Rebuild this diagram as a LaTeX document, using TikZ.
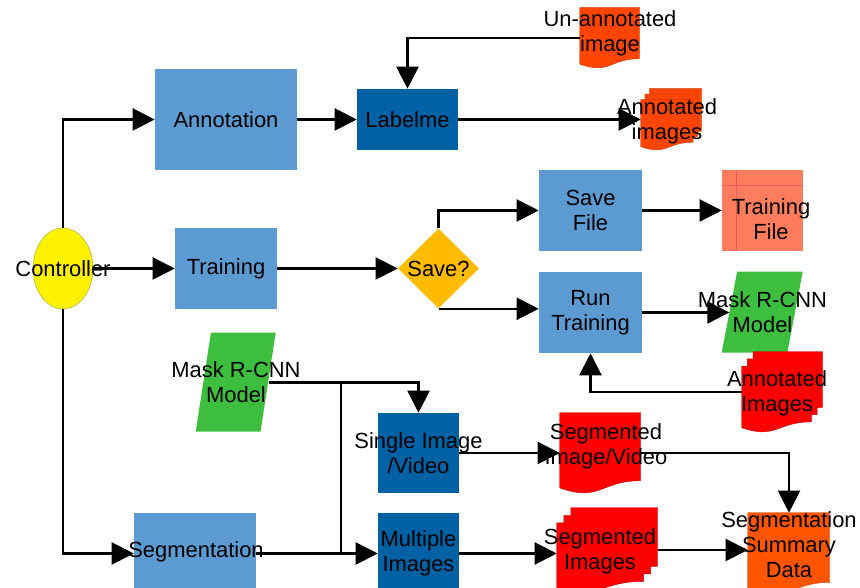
\documentclass[tikz,border=0pt]{standalone}
\usepackage{fontspec}
\setmainfont{Liberation Sans}
\usetikzlibrary{arrows.meta, shapes.geometric, positioning}

\definecolor{lightblue}{RGB}{91,155,210}
\definecolor{darkblue}{RGB}{0,97,165}
\definecolor{gold}{RGB}{255,187,0}
\definecolor{redorange}{RGB}{255,69,0}
\definecolor{docred}{RGB}{255,0,0}
\definecolor{summaryorange}{RGB}{255,85,0}
\definecolor{trainfile}{RGB}{255,124,92}
\definecolor{modelgreen}{RGB}{62,190,62}

% one page of a document shape, in a unit box (y downwards)
\newcommand{\docpage}[1]{\fill[#1, draw=#1!80!black, line width=0.3pt] (0,0) -- (1,0) -- (1,0.85) .. controls (0.5,0.85) and (0.5,1.12) .. (0,0.94) -- cycle;}
% shapes drawn over a named frame node: node, colour, width, height
\newcommand{\docshape}[4]{\begin{scope}[shift={(#1.north west)}, x=#3, y=-#4]\docpage{#2}\end{scope}}
\newcommand{\multidocshape}[4]{\begin{scope}[shift={(#1.north west)}, x=#3, y=-#4]
  \begin{scope}[shift={(0.14,0)}, xscale=0.86, yscale=0.82]\docpage{#2}\end{scope}
  \begin{scope}[shift={(0.07,0.09)}, xscale=0.86, yscale=0.82]\docpage{#2}\end{scope}
  \begin{scope}[shift={(0,0.18)}, xscale=0.86, yscale=0.82]\docpage{#2}\end{scope}
\end{scope}}
\newcommand{\parashape}[4]{\begin{scope}[shift={(#1.north west)}, x=#3, y=-#4]
  \fill[#2] (0.19,0) -- (1,0) -- (0.81,1) -- (0,1) -- cycle;
\end{scope}}

\begin{document}
\begin{tikzpicture}[
  font=\fontsize{15.6}{17.8}\selectfont,
  arr/.style={-{Triangle[length=0.55cm, width=0.55cm]}, line width=1.5pt},
  plainline/.style={line width=1.5pt},
  box/.style={fill=#1, inner sep=0pt, align=center},
  frame/.style 2 args={minimum width=#1, minimum height=#2, inner sep=0pt},
  txt/.style={align=center, inner sep=0pt}
]

\useasboundingbox (0,0) rectangle (21.5,14.7);
\clip (0,0) rectangle (21.5,14.7);

% Controller
\node[ellipse, fill=yellow, draw=yellow!60!black, line width=0.3pt, minimum width=1.5cm, minimum height=2.025cm] (ctrl) at (1.575,7.9875) {};

% Annotation
\node[box=lightblue, minimum width=3.55cm, minimum height=2.525cm] (annot) at (5.65,11.7125) {Annotation};
\node[box=darkblue, minimum width=2.525cm, minimum height=1.525cm] (labelme) at (10.1875,11.7125) {Labelme};
\node[frame={1.5cm}{1.5cm}] (unann) at (15.25,13.75) {};
\docshape{unann}{redorange}{1.5cm}{1.5cm}
\node[frame={1.525cm}{1.525cm}] (annimg) at (16.7875,11.7125) {};
\multidocshape{annimg}{redorange}{1.525cm}{1.525cm}

% Training
\node[box=lightblue, minimum width=2.55cm, minimum height=2.025cm] (train) at (5.65,7.9875) {Training};
\node[diamond, fill=gold, inner sep=0pt, minimum width=2.025cm, minimum height=2cm] (save) at (10.9625,7.9875) {Save?};
\node[box=lightblue, minimum width=2.575cm, minimum height=2.025cm] (savefile) at (14.7625,9.4375) {Save\\File};
\node[box=trainfile, minimum width=2.025cm, minimum height=2.025cm] (trainfile) at (19.0625,9.4375) {};
\draw[violet!25!trainfile, line width=0.4pt] ([xshift=0.375cm]trainfile.north west) -- ([xshift=0.375cm]trainfile.south west);
\draw[violet!25!trainfile, line width=0.4pt] ([yshift=-0.4cm]trainfile.north west) -- ([yshift=-0.4cm]trainfile.north east);
\node[box=lightblue, minimum width=2.575cm, minimum height=2.025cm] (runtrain) at (14.7625,6.8875) {Run\\Training};
\node[frame={2.025cm}{2.025cm}] (model) at (19.0625,6.8875) {};
\parashape{model}{modelgreen}{2.025cm}{2.025cm}
\node[frame={2.025cm}{2cm}] (annimgs) at (19.5625,4.9) {};
\multidocshape{annimgs}{docred}{2.025cm}{2cm}

% Segmentation
\node[frame={2cm}{2.475cm}] (maskmodel) at (5.9,5.1375) {};
\parashape{maskmodel}{modelgreen}{2cm}{2.475cm}
\node[box=darkblue, minimum width=2.025cm, minimum height=2cm] (single) at (10.4625,3.375) {};
\node[frame={2.025cm}{2cm}] (segvid) at (15.0125,3.375) {};
\docshape{segvid}{docred}{2.025cm}{2cm}
\node[box=lightblue, minimum width=3.05cm, minimum height=2.025cm] (seg) at (4.875,0.8625) {};
\node[box=darkblue, minimum width=2.025cm, minimum height=2.025cm] (multi) at (10.4625,0.8625) {Multiple\\Images};
\node[frame={2.525cm}{2.1cm}] (segimgs) at (15.1875,0.95) {};
\multidocshape{segimgs}{docred}{2.525cm}{2.1cm}
\node[frame={2.05cm}{2.05cm}] (summary) at (19.725,0.85) {};
\docshape{summary}{summaryorange}{2.05cm}{2.05cm}
\coordinate (split) at (8.525,0);

% Connectors
\draw[arr] (ctrl.north) |- (annot.west);
\draw[arr] (annot.east) -- (labelme.west);
\draw[arr] (unann.west) -| (labelme.north);
\draw[arr] (labelme.east) -- (annimg.west);
\draw[arr] (ctrl.east) -- (train.west);
\draw[arr] (train.east) -- (save.west);
\draw[arr] (save.north) |- (savefile.west);
\draw[arr] (save.south) -- (save.south -| runtrain.west);
\draw[arr] (savefile.east) -- (trainfile.west);
\draw[arr] (runtrain.east) -- ([xshift=0.19cm]model.west);
\draw[arr] (annimgs.west) -| (runtrain.south);
\draw[arr] (ctrl.south) |- (seg.west);
\draw[arr] (seg.east) -- (multi.west);
\draw[arr] ([xshift=-0.19cm]maskmodel.east) -| (single.north);
\draw[plainline] (maskmodel.east -| split) -- (seg.east -| split);
\draw[arr] (single.east) -- (segvid.west);
\draw[arr] (segvid.east) -| (summary.north);
\draw[arr] (multi.east) -- (multi.east -| segimgs.west);
\draw[arr] (segimgs.east) -- (segimgs.east -| summary.west);

% Labels on top
\node[txt] (ctrl-t) at (ctrl) {Controller};
\node[txt] (unann-t) at (15.25,13.875) {Un-annotated\\image};
\node[txt] (annimg-t) at (16.675,11.675) {Annotated\\images};
\node[txt] (trainfile-t) at (19.275,9.225) {Training\\File};
\node[txt] (model-t) at (model) {Mask R-CNN\\Model};
\node[txt] (annimgs-t) at (19.425,4.875) {Annotated\\Images};
\node[txt] (maskmodel-t) at (maskmodel) {Mask R-CNN\\Model};
\node[txt] (single-t) at (single) {Single Image\\/Video};
\node[txt] (segvid-t) at (15.15,3.55) {Segmented\\Image/Video};
\node[txt] (seg-t) at (4.9,0.9) {Segmentation};
\node[txt] (segimgs-t) at (15.0,0.925) {Segmented\\Images};
\node[txt] (summary-t) at (19.725,1.075) {Segmentation\\Summary\\Data};

\end{tikzpicture}
\end{document}
